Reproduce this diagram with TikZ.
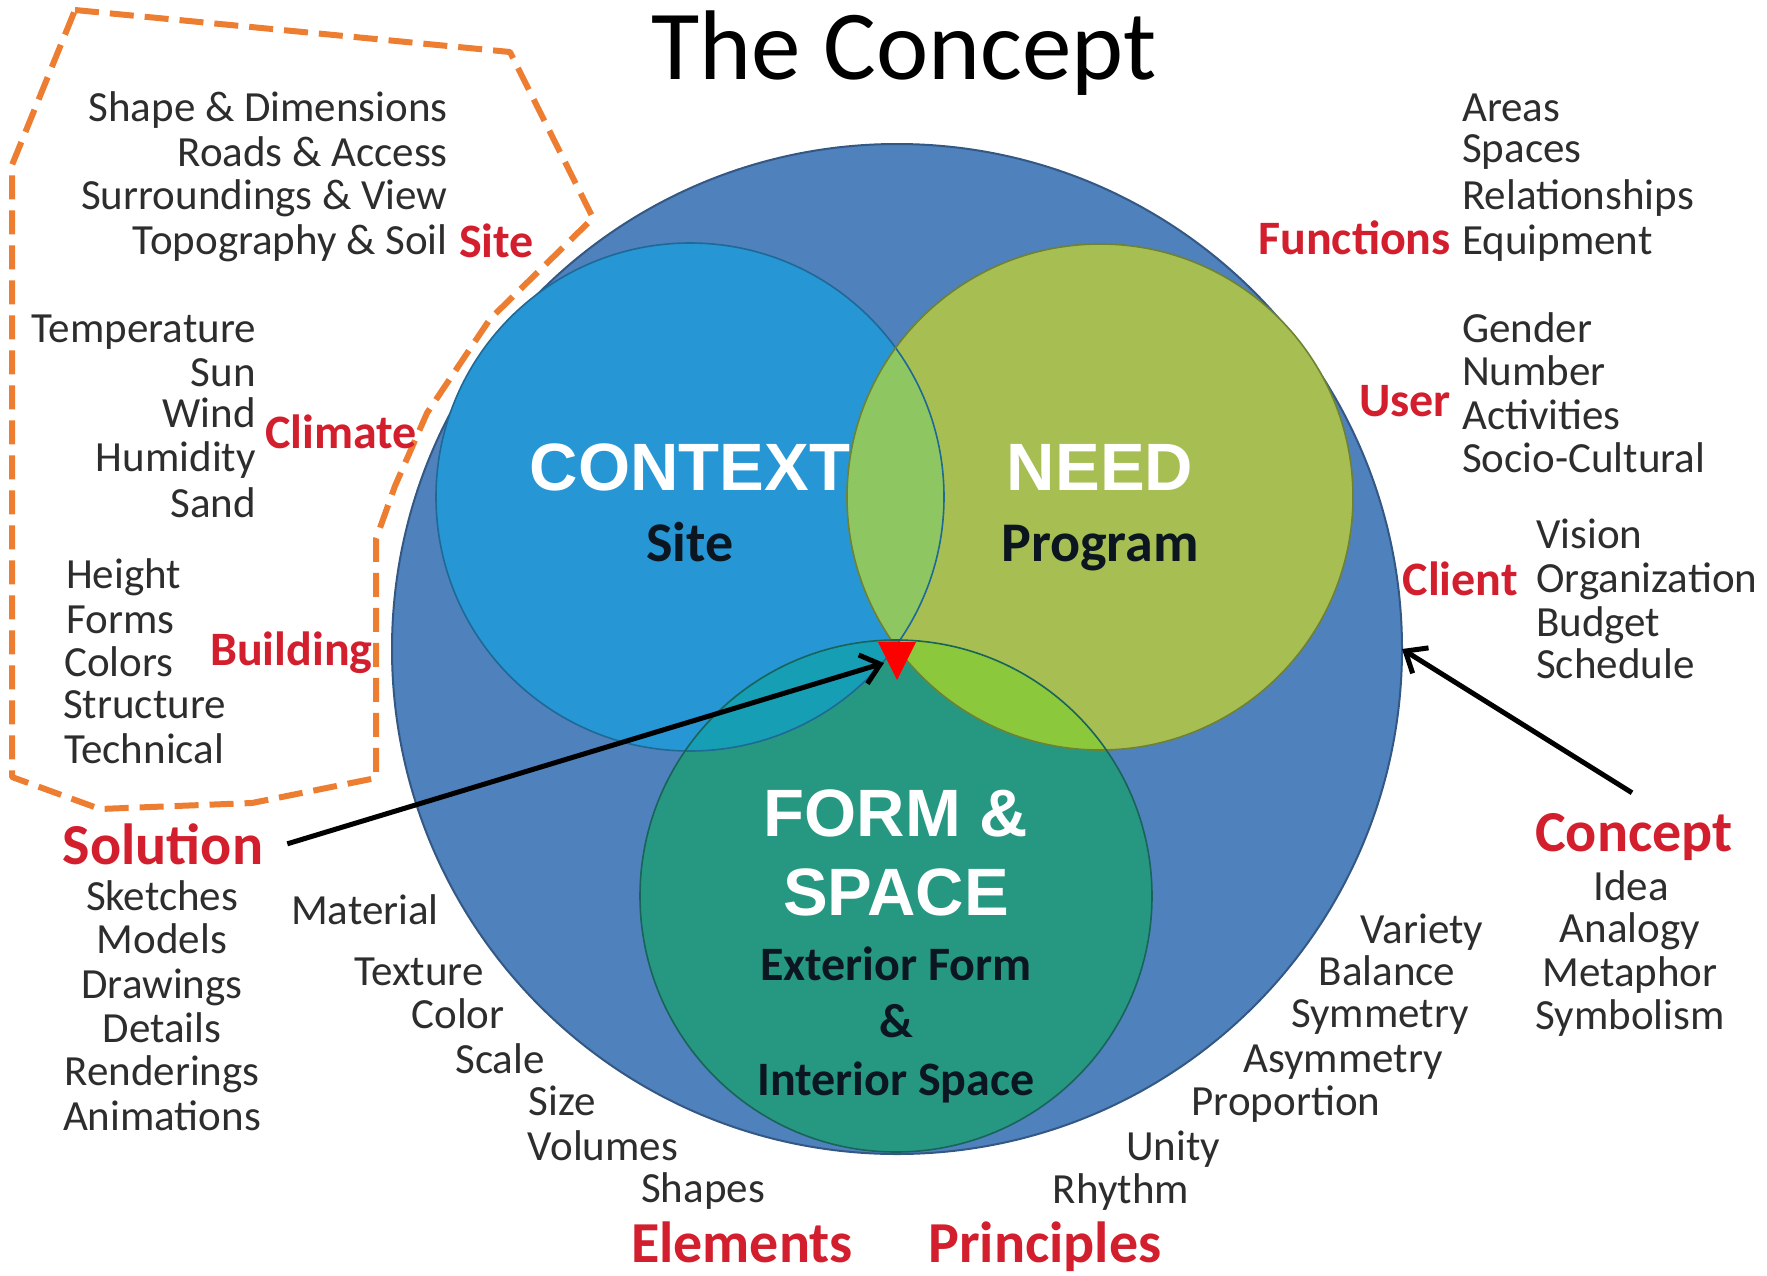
\documentclass[tikz,border=0pt]{standalone}
\usepackage{fontspec}
\setmainfont{Carlito}
\newfontfamily\arialf{Liberation Sans}
\usetikzlibrary{arrows.meta}
\definecolor{bigblue}{RGB}{79,129,189}
\definecolor{bigline}{RGB}{52,88,132}
\definecolor{ctxc}{RGB}{38,150,212}
\definecolor{ctxline}{RGB}{30,105,150}
\definecolor{needc}{RGB}{166,190,82}
\definecolor{needline}{RGB}{110,130,50}
\definecolor{formc}{RGB}{38,152,130}
\definecolor{formline}{RGB}{25,100,90}
\definecolor{ctxneed}{RGB}{142,198,98}
\definecolor{ctxform}{RGB}{22,158,180}
\definecolor{needform}{RGB}{140,200,60}
\definecolor{redlab}{RGB}{210,30,45}
\definecolor{txtc}{RGB}{45,45,45}
\definecolor{dark}{RGB}{12,22,32}
\definecolor{orangec}{RGB}{237,125,49}
\tikzset{
  item/.style={font=\fontsize{43}{43}\selectfont, text=txtc, inner sep=0pt},
  redmid/.style={font=\fontsize{48}{48}\selectfont\bfseries, text=redlab, inner sep=0pt},
  redbig/.style={font=\fontsize{58}{58}\selectfont\bfseries, text=redlab, inner sep=0pt},
  bigword/.style={font=\arialf\fontsize{67}{67}\selectfont\bfseries, text=white, inner sep=0pt},
  subword/.style={font=\fontsize{56}{56}\selectfont\bfseries, text=dark, inner sep=0pt},
  formword/.style={font=\fontsize{48}{48}\selectfont\bfseries, text=dark, inner sep=0pt},
  arr/.style={-{Straight Barb[length=18pt,width=30pt]}, line width=5pt, black},
  orangeline/.style={draw=orangec, line width=6pt, dash pattern=on 24pt off 11pt, line join=round}
}
\begin{document}
\begin{tikzpicture}[x=1pt,y=-1pt]
\useasboundingbox (0,0) rectangle (1767,1275);
% circles
\fill[bigblue] (897,649) circle[radius=505pt];
\draw[bigline, line width=2pt] (897,649) circle[radius=505pt];
\coordinate (bigE) at (1402,649);
\fill[ctxc] (690,497) circle[radius=254pt];
\fill[needc] (1100,497) circle[radius=253pt];
\fill[formc] (896,896) circle[radius=256pt];
\begin{scope}
  \clip (690,497) circle[radius=254pt];
  \fill[ctxneed] (1100,497) circle[radius=253pt];
  \fill[ctxform] (896,896) circle[radius=256pt];
\end{scope}
\begin{scope}
  \clip (1100,497) circle[radius=253pt];
  \fill[needform] (896,896) circle[radius=256pt];
\end{scope}
\begin{scope}
  \clip (1100,497) circle[radius=253pt];
  \clip (690,497) circle[radius=254pt];
  \fill[formc] (896,896) circle[radius=256pt];
\end{scope}
\draw[ctxline, line width=1.6pt] (690,497) circle[radius=254pt];
\draw[needline, line width=1.6pt] (1100,497) circle[radius=253pt];
\draw[formline, line width=1.6pt] (896,896) circle[radius=256pt];
% red triangle
\fill[red] (878,642) -- (916,642) -- (897,680) -- cycle;
\coordinate (triL) at (884,663);
% orange dashed outline
\draw[orangeline] (75,10) -- (510,52) -- (593,218) -- (490,319) -- (427,413) -- (395,486) -- (376,539) -- (376,778) -- (252,803) -- (100,809) -- (12,777) -- (12,165) -- cycle;
% title
\node[anchor=base, inner sep=0pt, font=\fontsize{99}{99}\selectfont] (title) at (904,79) {The Concept};
% center words
\node[bigword, anchor=base] (context) at (690,490) {CONTEXT};
\node[subword, anchor=base] (site) at (690,561) {Site};
\node[bigword, anchor=base] (need) at (1100,490) {NEED};
\node[subword, anchor=base] (program) at (1100,561) {Program};
\node[bigword, anchor=base] (formA) at (896,836) {FORM \&};
\node[bigword, anchor=base] (formB) at (896,915) {SPACE};
\node[formword, anchor=base] (ext) at (896,980) {Exterior Form};
\node[formword, anchor=base] (amp) at (896,1037) {\&};
\node[formword, anchor=base] (int) at (896,1095) {Interior Space};
% site block
\node[item, anchor=base east] (s1) at (448,121) {Shape \& Dimensions};
\node[item, anchor=base east] (s2) at (448,166) {Roads \& Access};
\node[item, anchor=base east] (s3) at (448,209) {Surroundings \& View};
\node[item, anchor=base east] (s4) at (448,254) {Topography \& Soil};
\node[redmid, anchor=base west] (sitelab) at (459,257) {Site};
% climate block
\node[item, anchor=base east] (c1) at (256,342) {Temperature};
\node[item, anchor=base east] (c2) at (256,386) {Sun};
\node[item, anchor=base east] (c3) at (256,427) {Wind};
\node[item, anchor=base east] (c4) at (256,471) {Humidity};
\node[item, anchor=base east] (c5) at (256,517) {Sand};
\node[redmid, anchor=base west] (climlab) at (265,448) {Climate};
% building block
\node[item, anchor=base west] (b1) at (66,588) {Height};
\node[item, anchor=base west] (b2) at (66,633) {Forms};
\node[item, anchor=base west] (b3) at (64,676) {Colors};
\node[item, anchor=base west] (b4) at (63,718) {Structure};
\node[item, anchor=base west] (b5) at (64,763) {Technical};
\node[redmid, anchor=base west] (buildlab) at (210,665) {Building};
% functions block
\node[redmid, anchor=base east] (funclab) at (1451,254) {Functions};
\node[item, anchor=base west] (f1) at (1462,121) {Areas};
\node[item, anchor=base west] (f2) at (1462,162) {Spaces};
\node[item, anchor=base west] (f3) at (1462,209) {Relationships};
\node[item, anchor=base west] (f4) at (1462,254) {Equipment};
% user block
\node[redmid, anchor=base east] (userlab) at (1451,416) {User};
\node[item, anchor=base west] (u1) at (1462,342) {Gender};
\node[item, anchor=base west] (u2) at (1462,385) {Number};
\node[item, anchor=base west] (u3) at (1462,429) {Activities};
\node[item, anchor=base west] (u4) at (1462,472) {Socio-Cultural};
% client block
\node[redmid, anchor=base east] (clientlab) at (1518,595) {Client};
\node[item, anchor=base west] (k1) at (1536,548) {Vision};
\node[item, anchor=base west] (k2) at (1536,592) {Organization};
\node[item, anchor=base west] (k3) at (1536,636) {Budget};
\node[item, anchor=base west] (k4) at (1536,678) {Schedule};
% solution block
\node[redbig, anchor=base] (solution) at (163,864) {Solution};
\node[item, anchor=base] (o1) at (162,910) {Sketches};
\node[item, anchor=base] (o2) at (162,953) {Models};
\node[item, anchor=base] (o3) at (162,998) {Drawings};
\node[item, anchor=base] (o4) at (162,1042) {Details};
\node[item, anchor=base] (o5) at (162,1085) {Renderings};
\node[item, anchor=base] (o6) at (162,1130) {Animations};
% elements
\node[item, anchor=base] (e1) at (365,924) {Material};
\node[item, anchor=base] (e2) at (419,985) {Texture};
\node[item, anchor=base] (e3) at (458,1028) {Color};
\node[item, anchor=base] (e4) at (500,1073) {Scale};
\node[item, anchor=base] (e5) at (562,1115) {Size};
\node[item, anchor=base] (e6) at (603,1160) {Volumes};
\node[item, anchor=base] (e7) at (703,1202) {Shapes};
\node[redbig, anchor=base] (elements) at (742,1262) {Elements};
% principles
\node[redbig, anchor=base] (principles) at (1045,1262) {Principles};
\node[item, anchor=base] (p1) at (1121,1203) {Rhythm};
\node[item, anchor=base] (p2) at (1173,1160) {Unity};
\node[item, anchor=base] (p3) at (1286,1115) {Proportion};
\node[item, anchor=base] (p4) at (1343,1072) {Asymmetry};
\node[item, anchor=base] (p5) at (1380,1027) {Symmetry};
\node[item, anchor=base] (p6) at (1387,985) {Balance};
\node[item, anchor=base] (p7) at (1422,943) {Variety};
% concept
\node[redbig, anchor=base] (concept) at (1634,851) {Concept};
\node[item, anchor=base] (q1) at (1631,900) {Idea};
\node[item, anchor=base] (q2) at (1630,942) {Analogy};
\node[item, anchor=base] (q3) at (1630,986) {Metaphor};
\node[item, anchor=base] (q4) at (1630,1029) {Symbolism};
% arrows
\draw[arr] ([xshift=24pt]solution.east) -- (triL);
\draw[arr] ([yshift=20pt,xshift=-2pt]concept.north) -- (bigE);
\end{tikzpicture}
\end{document}
